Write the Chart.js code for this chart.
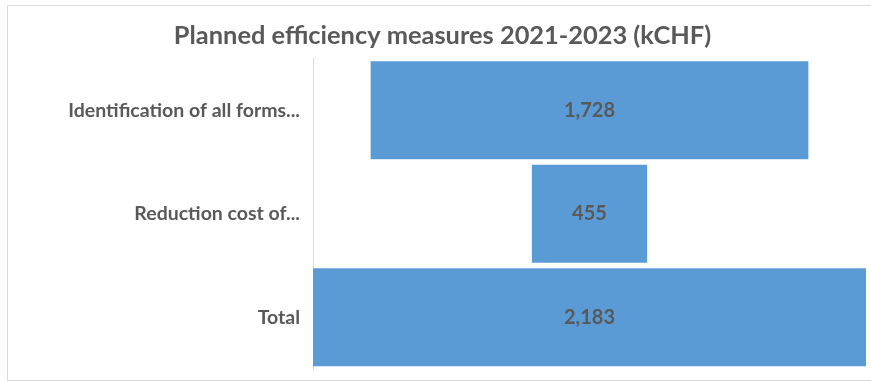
<!DOCTYPE html>
<html>
<head>
<meta charset="utf-8">
<script src="https://cdn.jsdelivr.net/npm/chart.js@4/dist/chart.umd.min.js"></script>
<style>
  html, body { margin: 0; padding: 0; background: #fff; overflow: hidden; width: 871px; height: 381px; }
  #frame { position: absolute; left: 7px; top: 5px; width: 870px; height: 374px; border: 1px solid #d9d9d9; }
  #funnel-chart { position: absolute; left: 19px; top: 0; }
</style>
</head>
<body>
<div id="frame"></div>
<canvas id="funnel-chart" width="859" height="381"></canvas>
<script>
const categories = ['Identification of all forms...', 'Reduction cost of...', 'Total'];
const values = [1728, 455, 2183];
const chartTitle = 'Planned efficiency measures 2021-2023 (kCHF)';

// centred bars: each bar is a range around the middle of the widest one
const total = Math.max(...values);
const ranges = values.map(v => [(total - v) / 2, (total + v) / 2]);

const textGrey = '#595959';
const fontFamily = 'Lato, "Open Sans", sans-serif';

// value labels in the middle of each bar
const barLabels = {
  id: 'barLabels',
  afterDatasetsDraw(chart) {
    const ctx = chart.ctx;
    const meta = chart.getDatasetMeta(0);
    ctx.save();
    ctx.font = 'bold 20px ' + fontFamily;
    ctx.fillStyle = textGrey;
    ctx.textAlign = 'center';
    ctx.textBaseline = 'middle';
    meta.data.forEach((bar, i) => {
      const cx = (bar.x + bar.base) / 2;
      ctx.fillText(values[i].toLocaleString('en-US'), cx, bar.y);
    });
    ctx.restore();
  }
};

const ctx = document.getElementById('funnel-chart').getContext('2d');
new Chart(ctx, {
  type: 'bar',
  data: {
    labels: categories,
    datasets: [{
      label: 'kCHF',
      data: ranges,
      backgroundColor: '#5b9bd5',
      borderWidth: 0,
      borderSkipped: false,
      barPercentage: 0.945,
      categoryPercentage: 1
    }]
  },
  options: {
    indexAxis: 'y',
    responsive: false,
    animation: false,
    layout: { padding: { left: 0, right: 12, top: 0, bottom: 12 } },
    scales: {
      x: {
        display: false,
        min: 0,
        max: total
      },
      y: {
        afterFit: (scale) => {
          scale.width = 294;
          scale.paddingTop = 0;
          scale.paddingBottom = 0;
        },
        grid: { drawOnChartArea: false, drawTicks: false },
        border: { display: true, color: '#d9d9d9', width: 1 },
        ticks: {
          padding: 13,
          color: textGrey,
          font: { family: fontFamily, size: 19.5, weight: 'bold' }
        }
      }
    },
    plugins: {
      legend: { display: false },
      tooltip: { enabled: false },
      title: {
        display: true,
        text: chartTitle,
        color: textGrey,
        font: { family: fontFamily, size: 25.4, weight: 'bold' },
        padding: { top: 21, bottom: 7 }
      }
    }
  },
  plugins: [barLabels]
});
</script>
</body>
</html>
